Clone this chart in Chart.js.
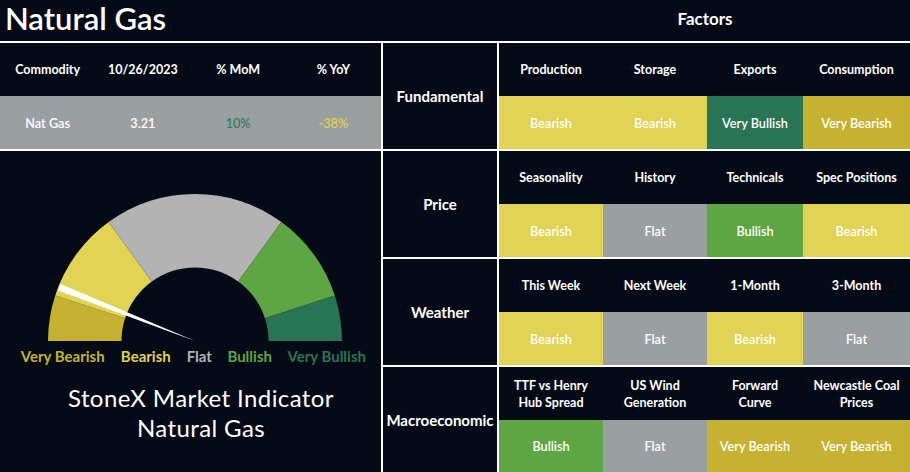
<!DOCTYPE html>
<html>
<head>
<meta charset="utf-8">
<script src="https://cdn.jsdelivr.net/npm/chart.js@4.4.0/dist/chart.umd.min.js"></script>
<style>
  html, body { margin: 0; padding: 0; }
  body {
    width: 910px; height: 472px; overflow: hidden; position: relative;
    background: #050b16; color: #fff;
    font-family: Lato, "Noto Sans", sans-serif;
  }
  .abs { position: absolute; white-space: nowrap; }
  .cell {
    position: absolute; display: flex; align-items: center; justify-content: center;
    text-align: center; white-space: pre-line; box-sizing: border-box;
  }
  .hdr { font-weight: 700; font-size: 12.5px; line-height: 17px; }
  .val { font-weight: 600; font-size: 12.7px; }
  .grp { font-weight: 700; font-size: 15px; }
  .line { position: absolute; background: #fff; }
  #gauge { position: absolute; left: 48px; top: 194px; }
</style>
</head>
<body>
<div class="abs" style="left:5px; top:2.5px; font-size:31px; line-height:31px; font-weight:600;">Natural Gas</div>
<div class="abs" style="left:705px; top:9px; font-size:17px; line-height:20px; font-weight:700; transform:translateX(-50%);">Factors</div>
<canvas id="gauge" width="294" height="147"></canvas>
<div class="abs" style="left:201px; top:382.5px; font-size:24px; letter-spacing:0.4px; line-height:30px; text-align:center; transform:translateX(-50%);">StoneX Market Indicator<br>Natural Gas</div>

<script>
// left summary table
const commodityHeaders = ['Commodity', '10/26/2023', '% MoM', '% YoY'];
const commodityRow = ['Nat Gas', '3.21', '10%', '-38%'];

// factor grid
const factorGroups = ['Fundamental', 'Price', 'Weather', 'Macroeconomic'];
const factorNames = [
  ['Production', 'Storage', 'Exports', 'Consumption'],
  ['Seasonality', 'History', 'Technicals', 'Spec Positions'],
  ['This Week', 'Next Week', '1-Month', '3-Month'],
  ['TTF vs Henry\nHub Spread', 'US Wind\nGeneration', 'Forward\nCurve', 'Newcastle Coal\nPrices']
];
const factorSignals = [
  ['Bearish', 'Bearish', 'Very Bullish', 'Very Bearish'],
  ['Bearish', 'Flat', 'Bullish', 'Bearish'],
  ['Bearish', 'Flat', 'Bearish', 'Flat'],
  ['Bullish', 'Flat', 'Very Bearish', 'Very Bearish']
];

// gauge
const gaugeLabels = ['Very Bearish', 'Bearish', 'Flat', 'Bullish', 'Very Bullish'];
const gaugeValues = [10, 20, 40, 20, 10];
const needleValue = 12;

const gaugeColors = ['#c5b230', '#e0d355', '#b3b3b3', '#5ea544', '#287454'];
const cellColors = {
  'Very Bearish': '#c5b230',
  'Bearish': '#e0d355',
  'Flat': '#9aa09f',
  'Bullish': '#5ea544',
  'Very Bullish': '#287454'
};

function addDiv(cls, x, y, w, h, text, bg, color) {
  const d = document.createElement('div');
  d.className = cls;
  d.style.left = x + 'px';
  d.style.top = y + 'px';
  d.style.width = w + 'px';
  d.style.height = h + 'px';
  if (text !== undefined) d.textContent = text;
  if (bg) d.style.background = bg;
  if (color) d.style.color = color;
  document.body.appendChild(d);
  return d;
}

// summary table
const leftColW = 381 / 4;
const rowColors = [null, null, '#2b7a5a', '#e0d355'];
addDiv('cell', 0, 96, 381, 53, '', '#9aa09f');
commodityHeaders.forEach((h, i) => {
  addDiv('cell hdr', i * leftColW, 43, leftColW, 53, h);
  const v = addDiv('cell val', i * leftColW, 96, leftColW, 53, commodityRow[i], null, rowColors[i]);
  if (i > 1) v.style.fontWeight = 500;
});

// factor grid
const groupTop = [43, 151, 259, 367];
const groupBottom = [149, 257, 365, 472];
const colX = [499, 603, 707, 803, 910];
factorGroups.forEach((g, r) => {
  const top = groupTop[r];
  addDiv('cell grp', 383, top, 114, groupBottom[r] - top, g);
  factorNames[r].forEach((name, c) => {
    const w = colX[c + 1] - colX[c];
    addDiv('cell hdr', colX[c], top, w, 53, name);
    const sig = factorSignals[r][c];
    addDiv('cell val', colX[c], top + 53, w, groupBottom[r] - top - 53, sig, cellColors[sig]);
  });
});

// white rules
addDiv('line', 0, 41, 910, 2);
addDiv('line', 381, 43, 2, 429);
addDiv('line', 497, 43, 2, 429);
addDiv('line', 0, 149, 381, 2);
[149, 257, 365].forEach(y => addDiv('line', 383, y, 527, 2));

// labels under the gauge
const labelX = [62.7, 145.8, 199.3, 249.7, 326.7];
gaugeLabels.forEach((l, i) => {
  const s = document.createElement('div');
  s.className = 'abs';
  s.textContent = l;
  s.style.left = labelX[i] + 'px';
  s.style.top = '347px';
  s.style.fontSize = '15px';
  s.style.lineHeight = '18px';
  s.style.fontWeight = 700;
  s.style.color = gaugeColors[i];
  s.style.transform = 'translateX(-50%)';
  document.body.appendChild(s);
});

const needlePlugin = {
  id: 'needle',
  afterDatasetsDraw(chart) {
    const arc = chart.getDatasetMeta(0).data[0];
    const total = gaugeValues.reduce((a, b) => a + b, 0);
    const ang = Math.PI + Math.PI * needleValue / total;
    const ctx = chart.ctx;
    ctx.save();
    ctx.translate(arc.x, arc.y);
    ctx.rotate(ang);
    ctx.beginPath();
    ctx.moveTo(0, 0);
    ctx.lineTo(arc.outerRadius - 1, -3.5);
    ctx.lineTo(arc.outerRadius - 1, 3.5);
    ctx.closePath();
    ctx.fillStyle = '#ffffff';
    ctx.fill();
    ctx.restore();
  }
};

new Chart(document.getElementById('gauge'), {
  type: 'doughnut',
  data: {
    labels: gaugeLabels,
    datasets: [{
      data: gaugeValues,
      backgroundColor: gaugeColors,
      borderWidth: 0
    }]
  },
  options: {
    responsive: false,
    animation: false,
    rotation: -90,
    circumference: 180,
    cutout: '50%',
    layout: { padding: 0 },
    plugins: {
      legend: { display: false },
      tooltip: { enabled: false }
    }
  },
  plugins: [needlePlugin]
});
</script>
</body>
</html>
